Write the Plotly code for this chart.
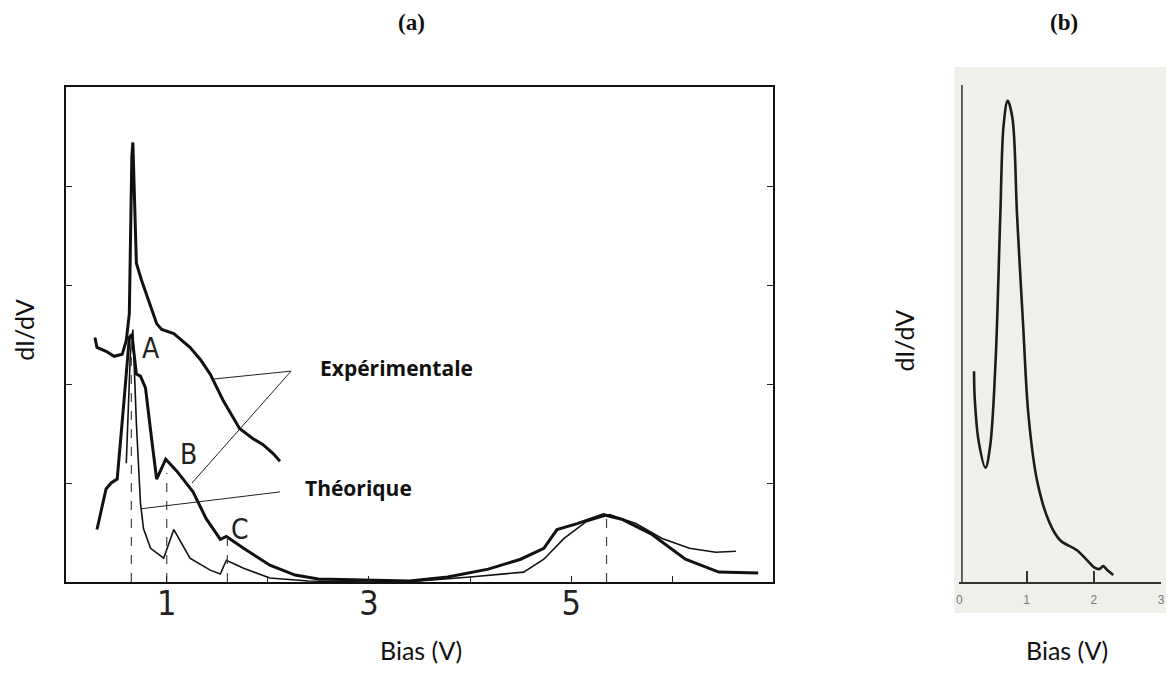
import plotly.graph_objects as go

# ---------------- Panel (a) data ----------------
exp_top_x = [0.29, 0.31, 0.40, 0.48, 0.56, 0.60, 0.63, 0.655, 0.665, 0.70, 0.75, 0.80, 0.90, 0.95, 1.07, 1.23, 1.33, 1.43, 1.56, 1.72, 1.85, 1.95, 2.05, 2.12]
exp_top_y = [2.47, 2.37, 2.33, 2.28, 2.30, 2.44, 2.71, 4.30, 4.44, 3.22, 3.05, 2.91, 2.61, 2.55, 2.51, 2.37, 2.25, 2.10, 1.83, 1.55, 1.45, 1.39, 1.30, 1.22]

exp_low_x = [0.31, 0.40, 0.45, 0.51, 0.58, 0.63, 0.655, 0.70, 0.74, 0.79, 0.85, 0.90, 0.95, 0.99, 1.10, 1.26, 1.39, 1.53, 1.59, 1.76, 2.02, 2.27, 2.5, 3.0, 3.4, 3.78, 4.18, 4.5, 4.73, 4.86, 5.06, 5.32, 5.51, 5.80, 6.13, 6.46, 6.85]
exp_low_y = [0.53, 0.94, 1.00, 1.04, 1.86, 2.47, 2.50, 2.10, 2.08, 1.96, 1.45, 1.04, 1.15, 1.24, 1.12, 0.91, 0.64, 0.43, 0.46, 0.34, 0.17, 0.07, 0.03, 0.02, 0.01, 0.05, 0.13, 0.23, 0.34, 0.53, 0.59, 0.68, 0.63, 0.48, 0.23, 0.10, 0.09]

theo_x = [0.60, 0.64, 0.665, 0.70, 0.74, 0.77, 0.84, 0.97, 1.07, 1.23, 1.43, 1.53, 1.59, 1.76, 2.02, 2.4, 3.0, 3.5, 4.0, 4.53, 4.73, 4.93, 5.15, 5.38, 5.64, 5.90, 6.17, 6.43, 6.63]
theo_y = [1.20, 2.30, 2.55, 1.60, 0.80, 0.54, 0.34, 0.24, 0.53, 0.24, 0.12, 0.08, 0.22, 0.14, 0.04, 0.01, 0.00, 0.01, 0.05, 0.10, 0.23, 0.44, 0.61, 0.68, 0.59, 0.44, 0.34, 0.30, 0.31]

peak_x = [0.65, 1.0, 1.6, 5.35]
peak_top = [2.5, 1.1, 0.45, 0.68]
peak_letters = ["A", "B", "C"]
letter_x = [0.84, 1.22, 1.72]
letter_y = [2.36, 1.29, 0.53]

xticks_a = [1, 2, 3, 4, 5, 6]
xticklabels_a = ["1", "", "3", "", "5", ""]

# ---------------- Panel (b) data ----------------
b_x = [0.22, 0.23, 0.29, 0.39, 0.46, 0.54, 0.61, 0.66, 0.72, 0.79, 0.86, 0.95, 1.03, 1.16, 1.34, 1.50, 1.75, 1.90, 2.00, 2.08, 2.14, 2.20, 2.29]
b_y = [2.12, 1.85, 1.41, 1.15, 1.37, 2.22, 3.68, 4.60, 4.84, 4.67, 3.68, 2.58, 1.67, 1.01, 0.60, 0.42, 0.32, 0.22, 0.15, 0.13, 0.16, 0.12, 0.07]
xticks_b = [0, 1, 2, 3]

fig = go.Figure()

# background of panel (b) (scanned paper)
fig.add_shape(type="rect", xref="paper", yref="paper", x0=957/1170, x1=1.0,
              y0=1-613/675, y1=1-67/675, fillcolor="#f0f0eb", line_width=0, layer="below")

ink = "#111111"
fig.add_trace(go.Scatter(x=exp_top_x, y=exp_top_y, mode="lines", line=dict(color=ink, width=3), xaxis="x", yaxis="y", showlegend=False))
fig.add_trace(go.Scatter(x=exp_low_x, y=exp_low_y, mode="lines", line=dict(color=ink, width=3), xaxis="x", yaxis="y", showlegend=False))
fig.add_trace(go.Scatter(x=theo_x, y=theo_y, mode="lines", line=dict(color=ink, width=1.6), xaxis="x", yaxis="y", showlegend=False))

for px, pt in zip(peak_x, peak_top):
    fig.add_trace(go.Scatter(x=[px, px], y=[0, pt], mode="lines", line=dict(color="#444", width=1.2, dash="dash"),
                             xaxis="x", yaxis="y", showlegend=False))

# pointer lines
fig.add_trace(go.Scatter(x=[1.46, 2.23, 1.25], y=[2.05, 2.13, 1.0], mode="lines", line=dict(color="#222", width=1),
                         xaxis="x", yaxis="y", showlegend=False))
fig.add_trace(go.Scatter(x=[0.75, 2.12], y=[0.74, 0.91], mode="lines", line=dict(color="#222", width=1),
                         xaxis="x", yaxis="y", showlegend=False))

narrow = "Liberation Sans Narrow, DejaVu Sans Condensed, sans-serif"
for t, lx, ly in zip(peak_letters, letter_x, letter_y):
    fig.add_annotation(x=lx, y=ly, xref="x", yref="y", text=t, showarrow=False,
                       xanchor="center", yanchor="middle",
                       font=dict(family=narrow, size=28, color="#222"))

fig.add_trace(go.Scatter(x=b_x, y=b_y, mode="lines", line=dict(color="#1c1c1c", width=2.6, shape="spline"),
                         xaxis="x2", yaxis="y2", showlegend=False))
# left axis line of panel (b)
fig.add_trace(go.Scatter(x=[0.04, 0.04], y=[0, 5], mode="lines", line=dict(color="#333", width=1.5),
                         xaxis="x2", yaxis="y2", showlegend=False))

fig.update_layout(
    width=1170, height=675, margin=dict(l=0, r=0, t=0, b=0),
    paper_bgcolor="white", plot_bgcolor="rgba(0,0,0,0)",
    xaxis=dict(domain=[63/1170, 775/1170], range=[0, 7], tickvals=xticks_a, ticktext=xticklabels_a,
               ticks="inside", ticklen=6, tickwidth=1.2, tickcolor="#222", showgrid=False, zeroline=False,
               showline=True, linecolor="#111", linewidth=2, mirror=True, ticklabelstandoff=-10,
               tickfont=dict(family=narrow, size=34, color="#222")),
    yaxis=dict(domain=[1-582/675, 1-87/675], range=[0, 5], tickvals=[1, 2, 3, 4], showticklabels=False,
               ticks="inside", ticklen=6, tickwidth=1.2, tickcolor="#222", showgrid=False, zeroline=False,
               showline=True, linecolor="#111", linewidth=2, mirror="ticks"),
    xaxis2=dict(domain=[962/1170, 1165/1170], range=[0, 3], anchor="y2", tickvals=xticks_b,
                ticks="inside", ticklen=11, tickwidth=2, tickcolor="#333", showgrid=False, zeroline=False,
                showline=True, linecolor="#333", linewidth=1.8, ticklabelstandoff=6,
                tickfont=dict(family="Liberation Sans, Arial, sans-serif", size=12, color="#777")),
    yaxis2=dict(domain=[1-582/675, 1-85/675], range=[0, 5], anchor="x2", visible=False),
)

lab_font = dict(family="Lato, Open Sans, sans-serif", size=25, color="#111")
serif = "Liberation Serif, Times New Roman, serif"
def ann(x, y, text, font, angle=0, xanchor="center"):
    fig.add_annotation(x=x/1170, y=1-y/675, xref="paper", yref="paper", text=text, textangle=angle,
                       showarrow=False, xanchor=xanchor, yanchor="middle", font=font)

ann(411, 23, "<b>(a)</b>", dict(family=serif, size=23, color="#111"))
ann(1067, 22, "<b>(b)</b>", dict(family=serif, size=23, color="#111"))
ann(21, 330, "dI/dV", lab_font, angle=-90)
ann(906, 341, "dI/dV", lab_font, angle=-90)
ann(421, 650, "Bias (V)", lab_font)
ann(1070, 650, "Bias (V)", lab_font)
ann(317, 368, "<b>Expérimentale</b>", dict(family="Open Sans, Lato, sans-serif", size=21, color="#111"), xanchor="left")
ann(302, 488, "<b>Théorique</b>", dict(family="Open Sans, Lato, sans-serif", size=21, color="#111"), xanchor="left")

fig.write_html("out.html")
